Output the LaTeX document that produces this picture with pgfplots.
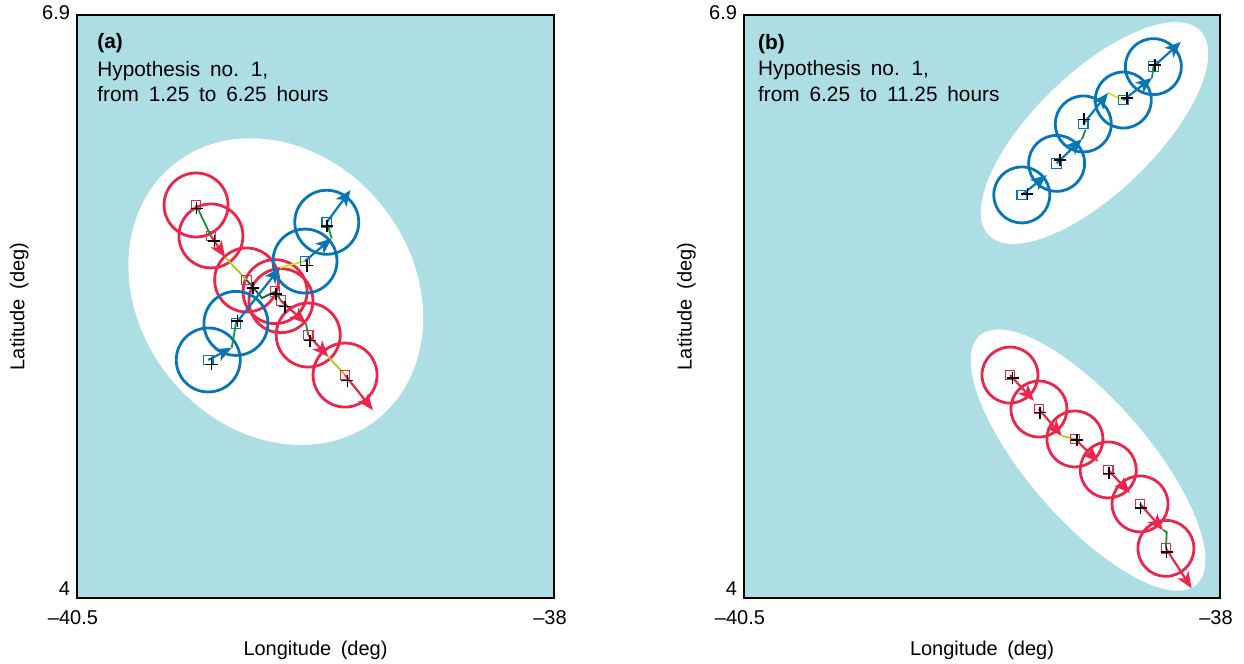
\documentclass[border=0pt]{standalone}
\usepackage{fontspec}
\setmainfont{Liberation Sans}[WordSpace=1.7]
\usepackage{pgfplots}
\pgfplotsset{compat=1.18}
\usetikzlibrary{arrows.meta}
\definecolor{bgblue}{RGB}{172,222,228}
\definecolor{tred}{RGB}{234,38,74}
\definecolor{tblue}{RGB}{8,118,180}
\definecolor{tgreen}{RGB}{20,145,60}
\definecolor{tlime}{RGB}{170,205,20}
\definecolor{tyellow}{RGB}{225,225,20}
% confidence ellipses as plot marks (semi-axes as vectors)
\pgfdeclareplotmark{ellA}{\pgfpathellipse{\pgfpointorigin}{\pgfpoint{50.73pt}{-63.78pt}}{\pgfpoint{53.45pt}{42.52pt}}\pgfusepathqfill}
\pgfdeclareplotmark{ellB}{\pgfpathellipse{\pgfpointorigin}{\pgfpoint{52.87pt}{51.06pt}}{\pgfpoint{-20.84pt}{21.58pt}}\pgfusepathqfill}
\pgfdeclareplotmark{ellC}{\pgfpathellipse{\pgfpointorigin}{\pgfpoint{54.13pt}{-62.26pt}}{\pgfpoint{22.64pt}{19.68pt}}\pgfusepathqfill}
\tikzset{txt/.style={anchor=base west, inner sep=0pt, font=\fontsize{10.4}{12}\selectfont}}
\pgfplotsset{
  panel/.style={scale only axis, height=291.5pt, anchor=south west,
    clip=false, clip marker paths=true,
    xmin=-40.5, xmax=-38, ymin=4, ymax=6.9,
    axis background/.style={fill=bgblue},
    xtick={-40.5,-38}, ytick={6.9},
    extra y ticks={4}, extra y tick labels={\mbox{4}},
    extra y tick style={yticklabel style={yshift=3.5pt}},
    xticklabels={\mbox{\textendash40.5},\mbox{\textendash38}},
    yticklabels={\mbox{6.9}},
    xticklabel style={yshift=-2.5pt, xshift=-2pt},
    yticklabel style={yshift=1pt},
    major tick length=0pt,
    axis line style={line width=0.6pt},
    xlabel={Longitude (deg)}, ylabel={Latitude (deg)},
    every axis x label/.style={at={(axis description cs:0.5,-0.089)}, anchor=center},
    every axis y label/.style={at={(axis description cs:-0.121,0.5)}, rotate=90, anchor=center},
  },
  ell/.style={only marks, white, mark options={fill=white, draw=none}},
  circA/.style={only marks, mark=o, mark size=16pt, mark options={line width=1.4pt}},
  circB/.style={only marks, mark=o, mark size=14pt, mark options={line width=1.4pt}},
  sq/.style={only marks, mark=square, mark size=2.4pt, mark options={line width=0.6pt}},
  pl/.style={only marks, black, mark=+, mark size=3pt, mark options={line width=0.8pt}},
  arr/.style={no marks, line width=1.1pt, -{Stealth[length=8pt,width=6.5pt,inset=2pt]}},
  con/.style={no marks, line width=0.9pt},
}
\begin{document}
\fontsize{10}{12}\selectfont
\begin{tikzpicture}
\useasboundingbox (0,0) rectangle (622pt,332pt);
% ---------------- panel (a) ----------------
\begin{axis}[panel, width=238.5pt, at={(38.5pt,33pt)}]
\addplot[ell, mark=ellA] coordinates {(-39.458,5.524)};
\addplot[circA, tred] coordinates {(-39.876,5.955) (-39.798,5.801) (-39.611,5.582) (-39.462,5.524) (-39.431,5.479) (-39.288,5.308) (-39.095,5.109)};
\addplot[circA, tblue] coordinates {(-39.812,5.184) (-39.667,5.366) (-39.305,5.676) (-39.191,5.869)};
% connecting lines
\addplot[con, tgreen] coordinates {(-39.876,5.955) (-39.798,5.801)};
\addplot[con, tlime] coordinates {(-39.724,5.695) (-39.611,5.582)};
\addplot[con, tgreen!70!black] coordinates {(-39.611,5.582) (-39.530,5.492) (-39.462,5.524)};
\addplot[con, tgreen] coordinates {(-39.462,5.524) (-39.431,5.479)};
\addplot[con, tgreen] coordinates {(-39.300,5.366) (-39.288,5.308)};
\addplot[con, tlime] coordinates {(-39.183,5.200) (-39.095,5.109)};
\addplot[con, tgreen] coordinates {(-39.689,5.245) (-39.667,5.366)};
\addplot[con, tyellow] coordinates {(-39.436,5.643) (-39.305,5.676)};
\addplot[con, tgreen] coordinates {(-39.165,5.789) (-39.191,5.869)};
% arrows
\addplot[arr, tred] coordinates {(-39.798,5.801) (-39.724,5.695)};
\addplot[arr, tred] coordinates {(-39.431,5.479) (-39.300,5.366)};
\addplot[arr, tred] coordinates {(-39.288,5.308) (-39.183,5.200)};
\addplot[arr, tred] coordinates {(-39.095,5.109) (-38.949,4.935)};
\addplot[arr, tblue] coordinates {(-39.812,5.184) (-39.689,5.245)};
\addplot[arr, tblue] coordinates {(-39.667,5.366) (-39.436,5.643)};
\addplot[arr, tblue] coordinates {(-39.305,5.676) (-39.165,5.789)};
\addplot[arr, tblue] coordinates {(-39.191,5.869) (-39.066,6.029)};
% squares and pluses
\addplot[sq, tred] coordinates {(-39.876,5.955) (-39.798,5.801) (-39.611,5.582) (-39.462,5.524) (-39.431,5.479) (-39.288,5.308) (-39.095,5.109)};
\addplot[sq, tblue] coordinates {(-39.812,5.184) (-39.667,5.366) (-39.305,5.676) (-39.191,5.869)};
\addplot[pl] coordinates {(-39.873,5.938) (-39.780,5.776) (-39.576,5.541) (-39.457,5.512) (-39.410,5.449) (-39.279,5.280) (-39.083,5.081)};
\addplot[pl] coordinates {(-39.795,5.162) (-39.659,5.378) (-39.293,5.653) (-39.190,5.850)};
\node[txt] at (rel axis cs:0.042,0.942) {\textbf{(a)}};
\node[txt] at (rel axis cs:0.042,0.894) {Hypothesis no. 1,};
\node[txt] at (rel axis cs:0.042,0.851) {from 1.25 to 6.25 hours};
\end{axis}
% ---------------- panel (b) ----------------
\begin{axis}[panel, width=238pt, at={(372pt,33pt)}]
\addplot[ell, mark=ellB] coordinates {(-38.659,6.313)};
\addplot[ell, mark=ellC] coordinates {(-38.693,4.686)};
\addplot[circB, tred] coordinates {(-39.103,5.109) (-38.951,4.940) (-38.762,4.791) (-38.587,4.637) (-38.420,4.468) (-38.284,4.247)};
\addplot[circB, tblue] coordinates {(-39.041,6.005) (-38.858,6.162) (-38.718,6.358) (-38.508,6.477) (-38.350,6.643)};
\addplot[con, tlime] coordinates {(-38.831,4.806) (-38.762,4.791)};
\addplot[con, tgreen] coordinates {(-38.299,4.338) (-38.280,4.328) (-38.284,4.247)};
\addplot[con, tgreen] coordinates {(-38.725,6.283) (-38.706,6.328)};
\addplot[con, tyellow] coordinates {(-38.588,6.512) (-38.508,6.477)};
\addplot[con, tgreen] coordinates {(-38.357,6.587) (-38.350,6.643)};
\addplot[arr, tred] coordinates {(-39.103,5.109) (-38.977,4.981)};
\addplot[arr, tred] coordinates {(-38.951,4.940) (-38.831,4.806)};
\addplot[arr, tred] coordinates {(-38.762,4.791) (-38.639,4.678)};
\addplot[arr, tred] coordinates {(-38.587,4.637) (-38.473,4.521)};
\addplot[arr, tred] coordinates {(-38.420,4.468) (-38.299,4.338)};
\addplot[arr, tred] coordinates {(-38.284,4.247) (-38.149,4.048)};
\addplot[arr, tblue] coordinates {(-39.041,6.005) (-38.910,6.104)};
\addplot[arr, tblue] coordinates {(-38.858,6.162) (-38.725,6.283)};
\addplot[arr, tblue] coordinates {(-38.718,6.358) (-38.588,6.512)};
\addplot[arr, tblue] coordinates {(-38.508,6.477) (-38.357,6.587)};
\addplot[arr, tblue] coordinates {(-38.350,6.643) (-38.205,6.766)};
\addplot[sq, tred] coordinates {(-39.103,5.109) (-38.951,4.940) (-38.762,4.791) (-38.587,4.637) (-38.420,4.468) (-38.284,4.247)};
\addplot[sq, tblue] coordinates {(-39.041,6.005) (-38.858,6.162) (-38.718,6.358) (-38.508,6.477) (-38.350,6.643)};
\addplot[pl] coordinates {(-39.089,5.093) (-38.945,4.922) (-38.751,4.786) (-38.583,4.620) (-38.417,4.449) (-38.280,4.230)};
\addplot[pl] coordinates {(-39.012,6.010) (-38.840,6.179) (-38.714,6.381) (-38.490,6.486) (-38.341,6.651)};
\node[txt] at (rel axis cs:0.029,0.940) {\textbf{(b)}};
\node[txt] at (rel axis cs:0.029,0.897) {Hypothesis no. 1,};
\node[txt] at (rel axis cs:0.029,0.852) {from 6.25 to 11.25 hours};
\end{axis}
\end{tikzpicture}
\end{document}
